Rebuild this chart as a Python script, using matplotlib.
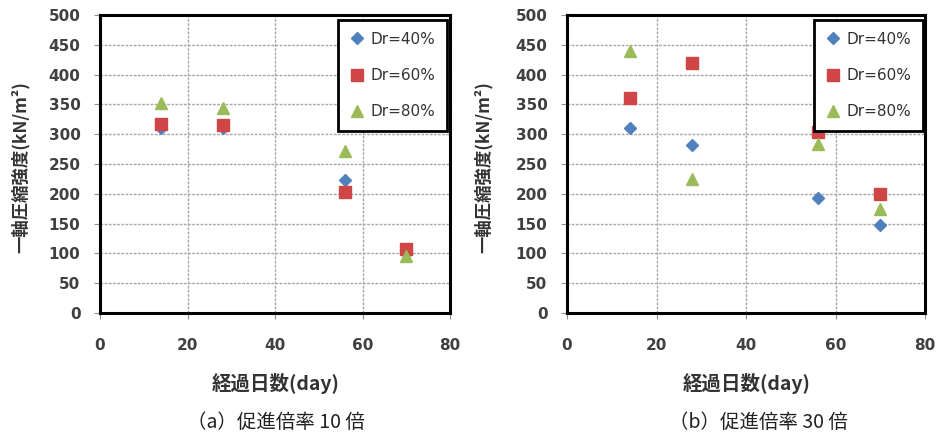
import matplotlib
matplotlib.use('Agg')
import matplotlib.pyplot as plt

plt.rcParams['font.family'] = ['Noto Sans CJK JP', 'DejaVu Sans']

# elapsed days
days = [14, 28, 56, 70]

# (a) acceleration x10
a_dr40 = [310, 310, 223, 100]
a_dr60 = [317, 315, 203, 107]
a_dr80 = [353, 344, 272, 95]

# (b) acceleration x30
b_dr40 = [310, 282, 193, 148]
b_dr60 = [360, 420, 303, 200]
b_dr80 = [440, 224, 284, 174]

labels = ['Dr=40%', 'Dr=60%', 'Dr=80%']
captions = ['（a）促進倍率 10 倍', '（b）促進倍率 30 倍']
xticks = [0, 20, 40, 60, 80]
yticks = list(range(0, 501, 50))

colors = ['#4F81BD', '#D04545', '#9BBB59']
markers = ['D', 's', '^']
msizes = [6, 9, 9]

fig = plt.figure(figsize=(9.38, 4.36), dpi=100)
ax_a = fig.add_axes([100 / 938, 1 - 313 / 436, 350 / 938, 298 / 436])
ax_b = fig.add_axes([567 / 938, 1 - 313 / 436, 358 / 938, 298 / 436])

# axes, data, caption, caption x, ylabel x, legend right edge
panels = [
    (ax_a, [a_dr40, a_dr60, a_dr80], captions[0], 0.503, -0.2, 0.991),
    (ax_b, [b_dr40, b_dr60, b_dr80], captions[1], 0.536, -0.207, 0.994),
]

for ax, series, cap, cap_x, yl_x, leg_x in panels:
    for vals, lab, c, m, ms in zip(series, labels, colors, markers, msizes):
        ax.plot(days, vals, linestyle='none', marker=m, color=c, markersize=ms,
                markeredgecolor=c, label=lab)
    ax.set_xlim(0, 80)
    ax.set_ylim(0, 500)
    ax.set_xticks(xticks)
    ax.set_yticks(yticks)
    ax.grid(True, color='#a8a8a8', linestyle=(0, (2, 1)), linewidth=1)
    ax.set_axisbelow(True)
    for sp in ax.spines.values():
        sp.set_linewidth(2.2)
        sp.set_color('black')
    ax.tick_params(axis='both', length=4, color='#909090', labelcolor='#404040')
    ax.tick_params(axis='x', pad=14)
    ax.tick_params(axis='y', pad=10)
    for t in ax.get_xticklabels() + ax.get_yticklabels():
        t.set_family('DejaVu Sans')
        t.set_fontweight('bold')
        t.set_fontsize(11)
    ax.set_xlabel('経過日数(day)', fontsize=14, fontweight='bold', color='#333333')
    ax.xaxis.set_label_coords(0.503, -0.201)
    ax.set_ylabel('一軸圧縮強度(kN/m²)', fontsize=12.5, fontweight='bold', color='#333333')
    ax.yaxis.set_label_coords(yl_x, 0.49)
    leg = ax.legend(loc='upper right', bbox_to_anchor=(leg_x, 0.983), borderaxespad=0,
                    frameon=True, fancybox=False, prop={'family': 'DejaVu Sans', 'size': 11},
                    labelspacing=1.4, handletextpad=0.36, borderpad=0.75,
                    handlelength=1.0)
    leg.get_frame().set_edgecolor('black')
    leg.get_frame().set_linewidth(2)
    leg.get_frame().set_alpha(1)
    for t in leg.get_texts():
        t.set_color('#333333')
    ax.text(cap_x, -0.366, cap, transform=ax.transAxes, ha='center', va='center',
            fontsize=14, color='#222222')

fig.savefig('out.png', dpi=100)
